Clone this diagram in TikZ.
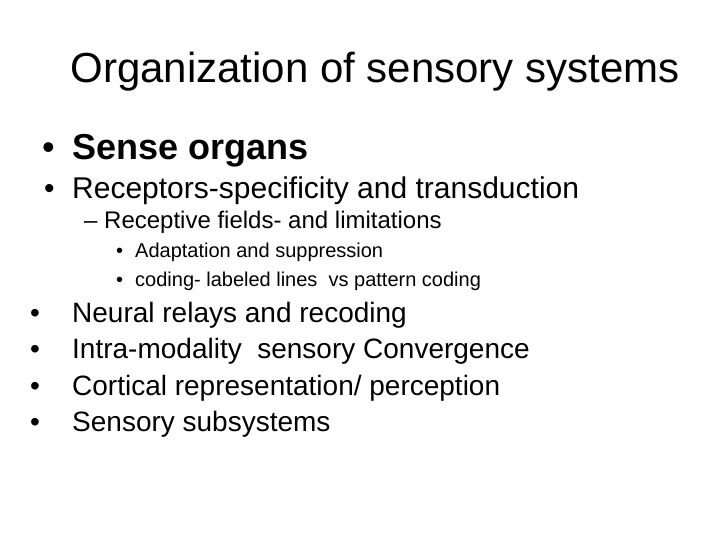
\documentclass[tikz,border=0pt]{standalone}
\usepackage{fontspec}
\setmainfont{Liberation Sans}
\begin{document}
\begin{tikzpicture}[x=1pt,y=-1pt,
  t/.style={anchor=base west,inner sep=0pt,text=black}]
\useasboundingbox (0,0) rectangle (720,540);
\node[anchor=base,inner sep=0pt] (title) at (375,83) {\fontsize{42}{46}\selectfont Organization of sensory systems};
\node[t] (b1) at (42,160) {\fontsize{36}{40}\selectfont\textbullet};
\node[t] (s1) at (72,160) {\fontsize{36}{40}\selectfont\bfseries Sense organs};
\node[t] (b2) at (44,199) {\fontsize{30}{34}\selectfont\textbullet};
\node[t] (s2) at (72,199) {\fontsize{30}{34}\selectfont Receptors-specificity and transduction};
\node[t] (b3) at (84,229) {\fontsize{24}{28}\selectfont --};
\node[t] (s3) at (104,229) {\fontsize{24}{28}\selectfont Receptive fields- and limitations};
\node[t] (b4) at (116,258) {\fontsize{20}{24}\selectfont\textbullet};
\node[t] (s4) at (135,258) {\fontsize{20}{24}\selectfont Adaptation and suppression};
\node[t] (b5) at (116,286) {\fontsize{20}{24}\selectfont\textbullet};
\node[t] (s5) at (135,286) {\fontsize{20}{24}\selectfont coding- labeled lines\ \ vs pattern coding};
\foreach \y/\s [count=\i] in {322/{Neural relays and recoding},358/{Intra-modality\ \ sensory Convergence},395/{Cortical representation/ perception},431/{Sensory subsystems}}{
  \node[t] (bb\i) at (30,\y) {\fontsize{28}{32}\selectfont\textbullet};
  \node[t] (ss\i) at (72,\y) {\fontsize{28}{32}\selectfont \s};
}
\end{tikzpicture}
\end{document}
